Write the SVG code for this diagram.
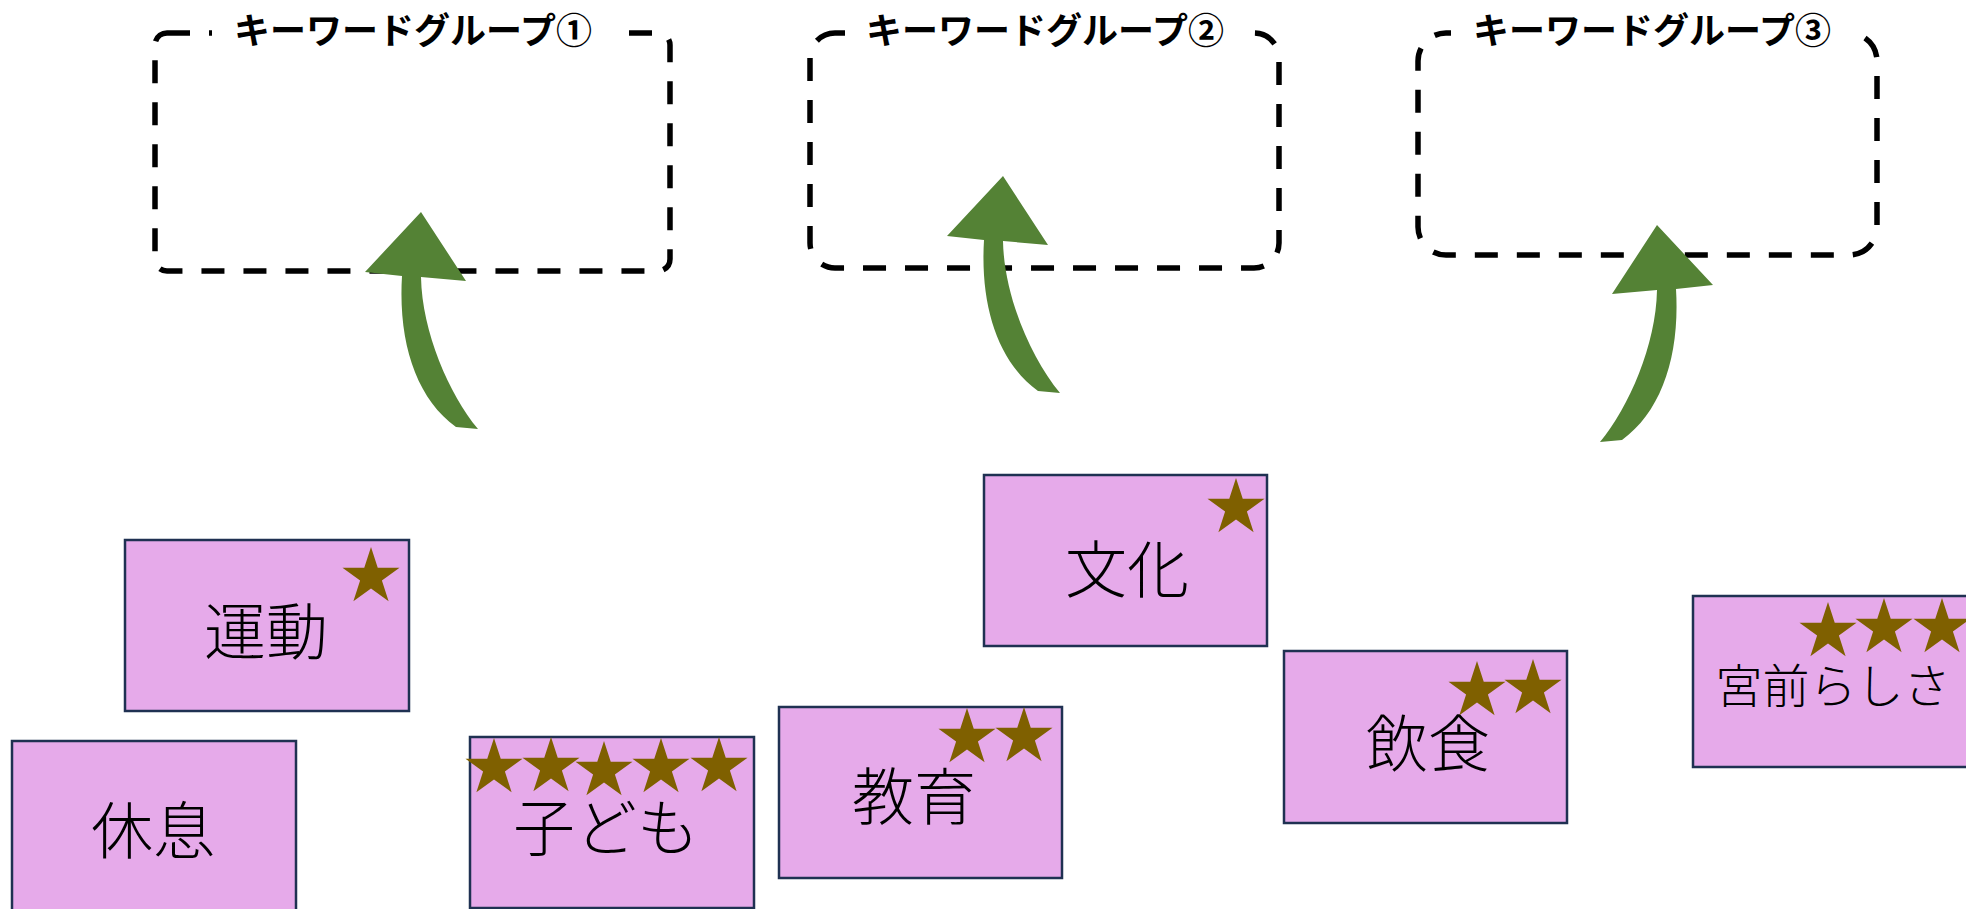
<svg xmlns="http://www.w3.org/2000/svg" xmlns:xlink="http://www.w3.org/1999/xlink" width="1966" height="909" viewBox="0 0 1966 909">
<style>
.grp{fill:none;stroke:#000;stroke-width:5.5;stroke-dasharray:23 19;}
.mask{fill:#fff;stroke:none;}
.ttl{font-family:"Noto Sans CJK JP","Noto Sans",sans-serif;font-size:36px;font-weight:700;fill:#000;text-anchor:middle;dominant-baseline:central;}
.card{fill:#E6AAEA;stroke:#1F3152;stroke-width:2.5;}
.lbl{font-family:"Noto Sans CJK JP","Noto Sans",sans-serif;font-size:62px;font-weight:300;fill:#000;text-anchor:middle;dominant-baseline:central;}
.star{fill:#7F6000;}
.arr{fill:#548235;}
</style>
<defs>
<path id="star" d="M0,-30 L6.74,-9.27 L28.53,-9.27 L10.9,3.54 L17.63,24.27 L0,11.46 L-17.63,24.27 L-10.9,3.54 L-28.53,-9.27 L-6.74,-9.27 Z"/>
<path id="carrow" d="M0,0 L45,69 L0,65 C1,120 28,182 57,217 L35,215 C-5,186 -23,130 -19,64 L-56,60 Z"/>
</defs>
<rect width="1966" height="909" fill="#fff"/>

<g id="group1">
<rect class="grp" x="155" y="33" width="515" height="238" rx="12"/>
<rect class="mask" x="212" y="8" width="406" height="50"/>
<text class="ttl" x="413" y="28">キーワードグループ①</text>
</g>
<g id="group2">
<rect class="grp" x="810" y="33" width="469" height="235" rx="25"/>
<rect class="mask" x="845" y="8" width="402" height="50"/>
<text class="ttl" x="1045" y="28">キーワードグループ②</text>
</g>
<g id="group3">
<rect class="grp" x="1418" y="33" width="459" height="222" rx="28"/>
<rect class="mask" x="1451" y="8" width="400" height="50"/>
<text class="ttl" x="1652" y="28">キーワードグループ③</text>
</g>

<g id="connectors">
<use xlink:href="#carrow" class="arr" transform="translate(421,212)"/>
<use xlink:href="#carrow" class="arr" transform="translate(1003,176)"/>
<use xlink:href="#carrow" class="arr" transform="translate(1657,225) scale(-1,1)"/>
</g>

<g id="node-undou">
<rect class="card" x="125" y="540" width="284" height="171"/>
<text class="lbl" x="266" y="628">運動</text>
<use xlink:href="#star" class="star" x="371" y="577"/>
</g>
<g id="node-kyusoku">
<rect class="card" x="12" y="741" width="284" height="171"/>
<text class="lbl" x="153" y="827">休息</text>
</g>
<g id="node-kodomo">
<rect class="card" x="470" y="737" width="284" height="171"/>
<text class="lbl" x="606" y="824">子ども</text>
<use xlink:href="#star" class="star" x="494" y="768"/>
<use xlink:href="#star" class="star" x="551" y="767"/>
<use xlink:href="#star" class="star" x="604" y="771"/>
<use xlink:href="#star" class="star" x="661" y="768"/>
<use xlink:href="#star" class="star" x="719" y="767"/>
</g>
<g id="node-bunka">
<rect class="card" x="984" y="475" width="283" height="171"/>
<text class="lbl" x="1127" y="566">文化</text>
<use xlink:href="#star" class="star" x="1236" y="508"/>
</g>
<g id="node-kyouiku">
<rect class="card" x="779" y="707" width="283" height="171"/>
<text class="lbl" x="914" y="793">教育</text>
<use xlink:href="#star" class="star" x="967" y="738"/>
<use xlink:href="#star" class="star" x="1024" y="737"/>
</g>
<g id="node-inshoku">
<rect class="card" x="1284" y="651" width="283" height="172"/>
<text class="lbl" x="1428" y="740">飲食</text>
<use xlink:href="#star" class="star" x="1477" y="691"/>
<use xlink:href="#star" class="star" x="1533" y="689"/>
</g>
<g id="node-miyamae">
<rect class="card" x="1693" y="596" width="283" height="171"/>
<text class="lbl" x="1833" y="682" style="font-size:47px">宮前らしさ</text>
<use xlink:href="#star" class="star" x="1828" y="632"/>
<use xlink:href="#star" class="star" x="1884" y="628"/>
<use xlink:href="#star" class="star" x="1942" y="628"/>
</g>
</svg>
